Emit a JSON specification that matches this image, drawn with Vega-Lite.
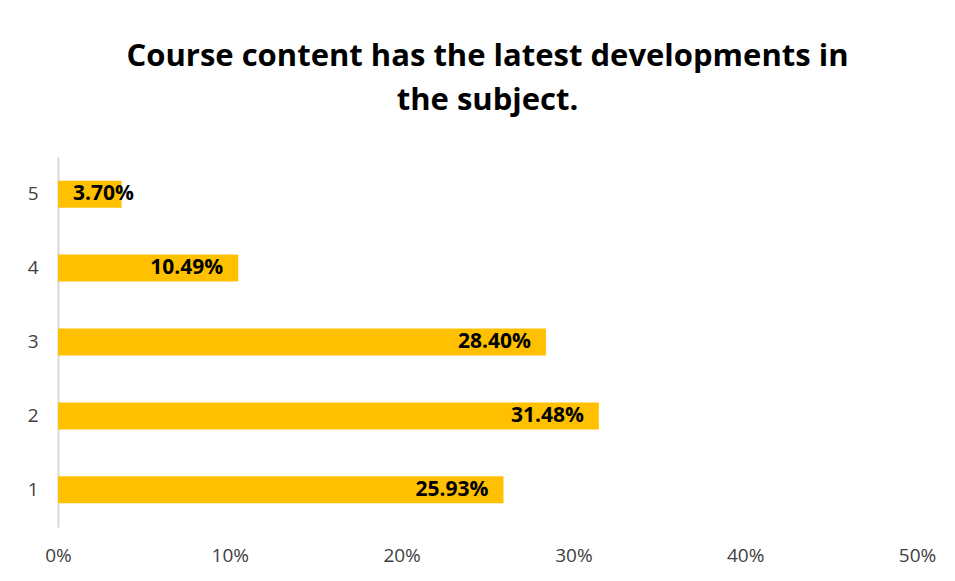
{
  "$schema": "https://vega.github.io/schema/vega-lite/v6.json",
  "width": 859,
  "height": 370,
  "autosize": "none",
  "padding": {"left": 58, "top": 157, "right": 38, "bottom": 54},
  "background": "white",
  "title": {
    "text": ["Course content has the latest developments in", "the subject."],
    "font": "Open Sans",
    "fontSize": 31,
    "fontWeight": "bold",
    "color": "#000000",
    "anchor": "middle",
    "offset": 40,
    "lineHeight": 44
  },
  "data": {
    "values": [
      {"rating": "5", "share": 0.037},
      {"rating": "4", "share": 0.1049},
      {"rating": "3", "share": 0.284},
      {"rating": "2", "share": 0.3148},
      {"rating": "1", "share": 0.2593}
    ]
  },
  "config": {
    "view": {"stroke": null},
    "axis": {"labelFont": "Open Sans", "labelFontSize": 19, "labelColor": "#404040", "grid": false, "ticks": false, "title": null}
  },
  "encoding": {
    "y": {
      "field": "rating",
      "type": "nominal",
      "sort": "descending",
      "scale": {"paddingInner": 0.635, "paddingOuter": 0.32},
      "axis": {"domain": true, "domainColor": "#d9d9d9", "domainWidth": 2, "labelPadding": 20}
    },
    "x": {
      "field": "share",
      "type": "quantitative",
      "scale": {"domain": [0, 0.5]},
      "axis": {"domain": false, "values": [0, 0.1, 0.2, 0.3, 0.4, 0.5], "format": ".0%", "labelPadding": 19, "labelFlush": false}
    }
  },
  "layer": [
    {"mark": {"type": "bar", "color": "#FFC000"}},
    {
      "transform": [{"filter": "datum.share >= 0.05"}],
      "mark": {"type": "text", "align": "right", "dx": -15, "font": "Open Sans", "fontSize": 21, "fontWeight": "bold", "color": "#000000"},
      "encoding": {"text": {"field": "share", "type": "quantitative", "format": ".2%"}}
    },
    {
      "transform": [{"filter": "datum.share < 0.05"}],
      "mark": {"type": "text", "align": "left", "dx": 15, "font": "Open Sans", "fontSize": 21, "fontWeight": "bold", "color": "#000000"},
      "encoding": {
        "x": {"datum": 0, "type": "quantitative"},
        "text": {"field": "share", "type": "quantitative", "format": ".2%"}
      }
    }
  ]
}
